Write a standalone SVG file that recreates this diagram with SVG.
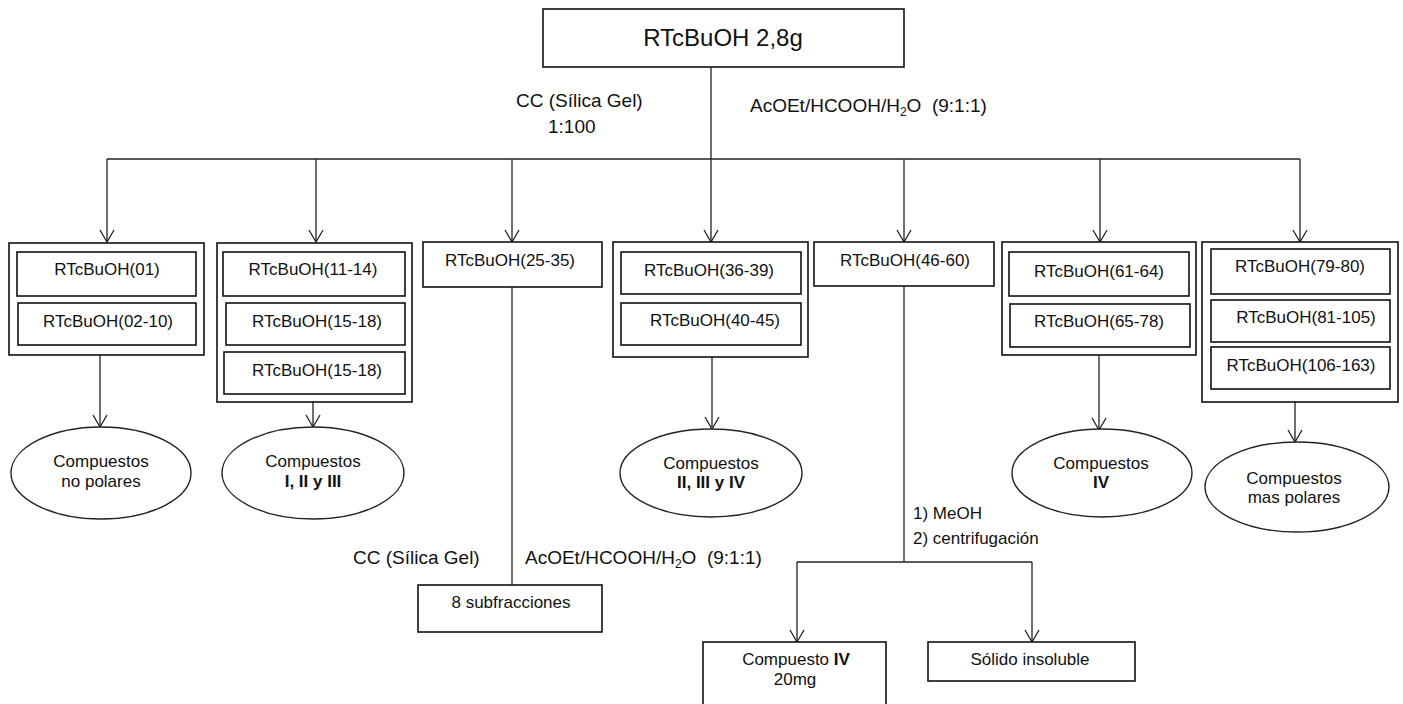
<svg xmlns="http://www.w3.org/2000/svg" width="1403" height="704" viewBox="0 0 1403 704">
<style>
text{font-family:"Liberation Sans",Arial,sans-serif;fill:#111;}
.c{text-anchor:middle;font-size:17px;}
.lbl{font-size:19px;}
.s{font-size:17px;}
.box{fill:#fff;stroke:#111;stroke-width:1.6;}
.ell{fill:#fff;stroke:#222;stroke-width:1.4;}
.ln{fill:none;stroke:#222;stroke-width:1.3;}
.b{font-weight:bold;}
</style>
<defs>
<marker id="arr" markerUnits="userSpaceOnUse" viewBox="-14 -8 15 16" refX="0" refY="0" markerWidth="15" markerHeight="16" orient="auto">
<path d="M-12,-7 L0,0 L-12,7" fill="none" stroke="#222" stroke-width="1.3"/>
</marker>
</defs>
<rect width="1403" height="704" fill="#fff"/>

<g id="connectors">
<path class="ln" d="M711,67 V242" marker-end="url(#arr)"/>
<path class="ln" d="M107,159 H1300"/>
<path class="ln" d="M107,159 V242" marker-end="url(#arr)"/>
<path class="ln" d="M316,159 V242" marker-end="url(#arr)"/>
<path class="ln" d="M512,159 V242" marker-end="url(#arr)"/>
<path class="ln" d="M904,159 V242" marker-end="url(#arr)"/>
<path class="ln" d="M1100,159 V242" marker-end="url(#arr)"/>
<path class="ln" d="M1300,159 V242" marker-end="url(#arr)"/>
<path class="ln" d="M100,355 V427" marker-end="url(#arr)"/>
<path class="ln" d="M313,402 V427" marker-end="url(#arr)"/>
<path class="ln" d="M512,287 V585"/>
<path class="ln" d="M712,357 V429" marker-end="url(#arr)"/>
<path class="ln" d="M904,286 V562"/>
<path class="ln" d="M797,562 H1032"/>
<path class="ln" d="M797,562 V642" marker-end="url(#arr)"/>
<path class="ln" d="M1032,562 V642" marker-end="url(#arr)"/>
<path class="ln" d="M1099,355 V430" marker-end="url(#arr)"/>
<path class="ln" d="M1295,402 V442" marker-end="url(#arr)"/>
</g>

<g id="labels">
<text class="lbl" x="516" y="107">CC (Sílica Gel)</text>
<text class="lbl" x="548" y="133">1:100</text>
<text class="lbl" x="750" y="112" xml:space="preserve">AcOEt/HCOOH/H<tspan font-size="12" dy="4">2</tspan><tspan dy="-4">O  (9:1:1)</tspan></text>
<text class="lbl" x="353" y="564">CC (Sílica Gel)</text>
<text class="lbl" x="525" y="564" xml:space="preserve">AcOEt/HCOOH/H<tspan font-size="12" dy="4">2</tspan><tspan dy="-4">O  (9:1:1)</tspan></text>
<text class="s" x="913" y="519">1) MeOH</text>
<text class="s" x="913" y="544">2) centrifugación</text>
</g>

<g id="root">
<rect class="box" x="543" y="9" width="361" height="58"/>
<text x="723" y="46" font-size="24" text-anchor="middle">RTcBuOH 2,8g</text>
</g>

<g id="group1">
<rect class="box" x="9" y="243" width="195" height="112"/>
<rect class="box" x="17" y="252" width="179" height="44"/>
<rect class="box" x="18" y="303" width="178" height="42"/>
<text class="c" x="107" y="275">RTcBuOH(01)</text>
<text class="c" x="108" y="327">RTcBuOH(02-10)</text>
</g>

<g id="group2">
<rect class="box" x="217" y="243" width="195" height="159"/>
<rect class="box" x="223" y="252" width="182" height="44"/>
<rect class="box" x="226" y="303" width="179" height="42"/>
<rect class="box" x="224" y="352" width="181" height="42"/>
<text class="c" x="313" y="275">RTcBuOH(11-14)</text>
<text class="c" x="317" y="327">RTcBuOH(15-18)</text>
<text class="c" x="317" y="376">RTcBuOH(15-18)</text>
</g>

<g id="group3">
<rect class="box" x="423" y="242" width="179" height="45"/>
<text class="c" x="510" y="266">RTcBuOH(25-35)</text>
</g>

<g id="group4">
<rect class="box" x="613" y="242" width="195" height="115"/>
<rect class="box" x="621" y="252" width="180" height="42"/>
<rect class="box" x="621" y="303" width="180" height="42"/>
<text class="c" x="709" y="276">RTcBuOH(36-39)</text>
<text class="c" x="715" y="326">RTcBuOH(40-45)</text>
</g>

<g id="group5">
<rect class="box" x="814" y="242" width="180" height="44"/>
<text class="c" x="905" y="266">RTcBuOH(46-60)</text>
</g>

<g id="group6">
<rect class="box" x="1002" y="242" width="194" height="113"/>
<rect class="box" x="1009" y="252" width="180" height="44"/>
<rect class="box" x="1010" y="304" width="180" height="43"/>
<text class="c" x="1099" y="277">RTcBuOH(61-64)</text>
<text class="c" x="1099" y="327">RTcBuOH(65-78)</text>
</g>

<g id="group7">
<rect class="box" x="1202" y="242" width="196" height="160"/>
<rect class="box" x="1211" y="249" width="179" height="45"/>
<rect class="box" x="1211" y="300" width="179" height="42"/>
<rect class="box" x="1211" y="347" width="179" height="42"/>
<text class="c" x="1300" y="272">RTcBuOH(79-80)</text>
<text class="c" x="1306" y="323" font-size="15">RTcBuOH(81-105)</text>
<text class="c" x="1301" y="371">RTcBuOH(106-163)</text>
</g>

<g id="ell1">
<ellipse class="ell" cx="101" cy="473" rx="90" ry="46"/>
<text class="c" x="101" y="467">Compuestos</text>
<text class="c" x="101" y="487">no polares</text>
</g>

<g id="ell2">
<ellipse class="ell" cx="313" cy="473" rx="91" ry="46"/>
<text class="c" x="313" y="467">Compuestos</text>
<text class="c b" x="313" y="487">I, II y III</text>
</g>

<g id="ell4">
<ellipse class="ell" cx="711" cy="473" rx="91" ry="44"/>
<text class="c" x="711" y="469">Compuestos</text>
<text class="c b" x="711" y="488">II, III y IV</text>
</g>

<g id="ell6">
<ellipse class="ell" cx="1102" cy="473" rx="90" ry="44"/>
<text class="c" x="1101" y="469">Compuestos</text>
<text class="c b" x="1101" y="488">IV</text>
</g>

<g id="ell7">
<ellipse class="ell" cx="1297" cy="487" rx="92" ry="45"/>
<text class="c" x="1294" y="484">Compuestos</text>
<text class="c" x="1294" y="503">mas polares</text>
</g>

<g id="subfr">
<rect class="box" x="418" y="585" width="184" height="47"/>
<text class="c" x="511" y="608">8 subfracciones</text>
</g>

<g id="comp4">
<rect class="box" x="703" y="642" width="183" height="70"/>
<text class="c" x="796" y="665">Compuesto <tspan class="b">IV</tspan></text>
<text class="c" x="795" y="685">20mg</text>
</g>

<g id="solido">
<rect class="box" x="928" y="642" width="207" height="39"/>
<text class="c" x="1030" y="665">Sólido insoluble</text>
</g>
</svg>
